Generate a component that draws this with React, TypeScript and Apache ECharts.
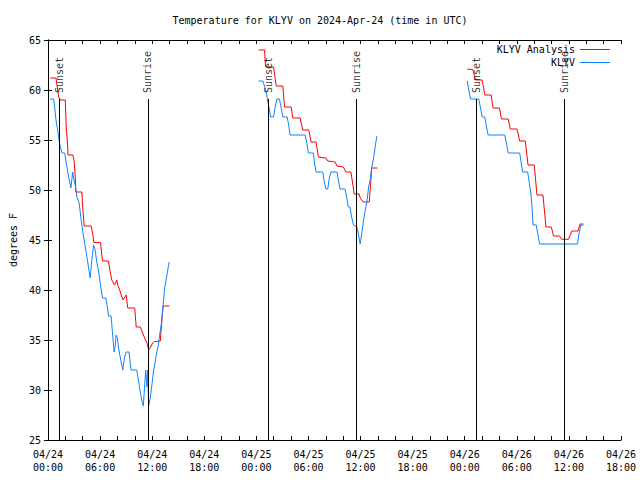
import React, { useEffect, useRef } from "react";
import * as echarts from "echarts";

const TITLE = "Temperature for KLYV on 2024-Apr-24 (time in UTC)";
const ANALYSIS = "KLYV Analysis";
const OBS = "KLYV";
const Y_NAME = "degrees F";

// hours since 04/24 00:00 UTC
const sunsetHours = [1.35, 25.37, 49.38];
const sunriseHours = [11.5, 35.54, 59.51];
const eventTop = 59.1;

// [hour since 04/24 00:00 UTC, degrees F]
const analysisDay1: [number, number][] = [
  [0.26, 61.2], [0.92, 61.2], [1.23, 59.3], [1.41, 59.0], [1.99, 59.0], [2.1, 56.3],
  [2.26, 54.5], [2.3, 53.5], [2.87, 53.5], [3.02, 52.8], [3.16, 51.0], [3.21, 49.8],
  [3.9, 49.8], [4.02, 48.0], [4.17, 46.4], [4.97, 46.4], [5.17, 45.5], [5.28, 44.75],
  [6.05, 44.75], [6.2, 43.5], [6.28, 42.9], [6.97, 42.9], [7.12, 42.0], [7.35, 41.0],
  [7.66, 40.5], [7.92, 41.0], [8.03, 40.5], [8.26, 40.0], [8.61, 39.0], [9.01, 39.5],
  [9.18, 38.2], [9.99, 38.2], [10.16, 36.3], [10.64, 36.3], [10.85, 35.8], [11.13, 35.2],
  [11.44, 34.6], [11.59, 34.0], [11.82, 34.3], [12.05, 34.7], [12.28, 34.85], [12.94, 34.9],
  [13.0, 35.7], [13.14, 37.3], [13.26, 38.4], [13.97, 38.4],
];
const observedDay1: [number, number][] = [
  [0.26, 59.1], [0.65, 59.1], [0.77, 58.3], [0.92, 57.0], [1.11, 56.0], [1.3, 54.8],
  [1.46, 54.2], [1.61, 53.7], [1.92, 53.7], [2.18, 52.3], [2.38, 51.3], [2.64, 50.2],
  [2.84, 51.8], [2.95, 51.2], [3.13, 50.5], [3.33, 49.3], [3.59, 48.7], [3.82, 47.0],
  [4.1, 45.3], [4.36, 44.0], [4.59, 42.7], [4.86, 41.2], [5.05, 43.0], [5.25, 44.5],
  [5.43, 44.0], [5.62, 42.8], [5.89, 41.5], [6.08, 40.3], [6.28, 39.2], [6.66, 39.2],
  [6.85, 38.2], [6.97, 37.4], [7.27, 37.4], [7.43, 35.7], [7.61, 33.8], [7.73, 34.3],
  [7.84, 35.5], [8.0, 35.2], [8.12, 34.2], [8.38, 33.0], [8.61, 32.0], [8.8, 33.2],
  [8.99, 33.8], [9.33, 33.8], [9.56, 32.0], [10.22, 32.0], [10.41, 31.0], [10.59, 30.0],
  [10.79, 29.0], [10.98, 28.4], [11.1, 30.0], [11.25, 32.0], [11.4, 30.3], [11.48, 32.0],
  [11.59, 28.4], [11.74, 29.0], [11.94, 30.3], [12.13, 31.7], [12.32, 32.7], [12.51, 33.7],
  [12.71, 34.5], [12.89, 35.7], [13.09, 36.8], [13.28, 38.7], [13.46, 40.3], [13.66, 41.3],
  [13.85, 42.3], [13.97, 42.8],
];
const analysisDay2: [number, number][] = [
  [24.25, 64.0], [24.94, 64.0], [25.06, 62.3], [25.98, 62.3], [26.29, 60.4], [27.05, 60.4],
  [27.24, 58.3], [28.01, 58.3], [28.2, 57.2], [29.04, 57.2], [29.35, 56.0], [30.04, 56.0],
  [30.3, 54.8], [30.88, 54.8], [31.14, 53.3], [32.02, 53.2], [32.22, 52.9], [33.06, 52.8],
  [33.29, 52.4], [34.01, 52.3], [34.32, 51.8], [34.89, 51.8], [35.12, 50.5], [35.27, 49.6],
  [35.85, 49.6], [35.96, 49.2], [36.31, 48.8], [37.0, 48.8], [37.19, 51.0], [37.27, 52.2],
  [37.96, 52.2],
];
const observedDay2: [number, number][] = [
  [24.25, 60.9], [24.76, 60.9], [25.14, 59.8], [25.33, 58.8], [25.52, 58.0], [25.63, 57.3],
  [25.98, 57.3], [26.17, 58.3], [26.37, 59.1], [26.66, 59.1], [26.86, 58.2], [27.05, 57.3],
  [27.55, 57.3], [27.7, 56.6], [27.89, 55.5], [29.61, 55.5], [29.81, 54.7], [29.99, 53.7],
  [30.57, 53.7], [30.68, 52.8], [30.88, 51.8], [31.65, 51.8], [31.83, 50.8], [32.02, 50.1],
  [32.22, 50.1], [32.4, 51.2], [32.6, 51.8], [33.29, 51.8], [33.44, 51.0], [33.63, 50.1],
  [34.21, 50.1], [34.4, 49.3], [34.58, 48.3], [34.78, 48.3], [34.97, 47.3], [35.2, 46.5],
  [35.58, 46.3], [35.78, 45.5], [35.96, 44.6], [36.16, 45.8], [36.35, 47.0], [36.54, 48.0],
  [36.73, 48.8], [36.93, 50.3], [37.11, 51.0], [37.3, 52.3], [37.5, 53.2], [37.68, 54.3],
  [37.88, 55.4],
];
const analysisDay3: [number, number][] = [
  [48.29, 62.07], [48.93, 62.07], [49.24, 61.0], [50.01, 61.0], [50.31, 59.5], [51.04, 59.5],
  [51.27, 58.2], [52.0, 58.2], [52.23, 57.1], [53.0, 57.1], [53.26, 56.1], [54.03, 56.1],
  [54.33, 54.9], [54.98, 54.9], [55.29, 52.5], [56.01, 52.5], [56.32, 49.5], [57.01, 49.5],
  [57.36, 46.3], [57.97, 46.3], [58.23, 45.4], [58.92, 45.4], [59.19, 45.07], [59.95, 45.07],
  [60.34, 45.9], [61.03, 45.9], [61.29, 46.6], [61.67, 46.6],
];
const observedDay3: [number, number][] = [
  [48.29, 60.9], [48.47, 60.0], [48.67, 59.1], [49.62, 59.1], [49.82, 58.2], [50.01, 57.3],
  [50.31, 57.3], [50.51, 56.3], [50.7, 55.5], [52.61, 55.5], [52.8, 54.7], [53.0, 53.7],
  [54.33, 53.7], [54.49, 52.8], [54.67, 51.8], [55.25, 51.8], [55.44, 50.7], [55.64, 49.5],
  [55.75, 48.3], [55.87, 46.5], [56.24, 46.5], [56.44, 45.5], [56.62, 44.6], [60.99, 44.6],
  [61.18, 45.7], [61.37, 46.5], [61.67, 46.5],
];

const FONT = "DejaVu Sans Mono";
const RED = "#ff0000";
const BLUE = "#0f84ff";

function tickLabel(v: number): string {
  const day = 24 + Math.floor(v / 24);
  const hr = Math.round(v % 24);
  return `04/${day}\n${String(hr).padStart(2, "0")}:00`;
}

export default function App() {
  const ref = useRef<HTMLDivElement>(null);
  useEffect(() => {
    if (!ref.current) return;
    const chart = echarts.init(ref.current, undefined, { renderer: "svg" });
    const lineSeries = (name: string, color: string, data: [number, number][]) => ({
      type: "line",
      name,
      data,
      symbol: "none",
      showSymbol: false,
      lineStyle: { color, width: 1 },
      itemStyle: { color },
      z: 3,
    });
    const eventLines = [...sunsetHours, ...sunriseHours].map((t) => [
      { coord: [t, eventTop] },
      { coord: [t, 25] },
    ]);
    const eventLabels = [
      ...sunsetHours.map((t) => [t, eventTop + 0.6, "Sunset"]),
      ...sunriseHours.map((t) => [t, eventTop + 0.6, "Sunrise"]),
    ];
    const axisCommon = {
      type: "value",
      min: 0,
      max: 66,
      interval: 6,
      axisLine: { show: true, lineStyle: { color: "#000", width: 1 } },
      axisTick: { show: true, inside: true, length: 4, lineStyle: { color: "#000" } },
      minorTick: { show: true, splitNumber: 3, length: 4, lineStyle: { color: "#000" } },
      splitLine: { show: false },
      minorSplitLine: { show: false },
    };
    const yCommon = {
      type: "value",
      min: 25,
      max: 65,
      interval: 5,
      axisLine: { show: true, lineStyle: { color: "#000", width: 1 } },
      axisTick: { show: true, inside: true, length: 4, lineStyle: { color: "#000" } },
      splitLine: { show: false },
    };
    chart.setOption({
      animation: false,
      backgroundColor: "#fff",
      title: {
        text: TITLE,
        left: "center",
        top: 10,
        textStyle: { fontFamily: FONT, fontSize: 10, fontWeight: "normal", color: "#000" },
      },
      legend: {
        data: [ANALYSIS, OBS],
        orient: "vertical",
        right: 30,
        top: 43,
        padding: 0,
        align: "right",
        icon: "rect",
        itemWidth: 30,
        itemHeight: 1,
        itemGap: 0,
        textStyle: { fontFamily: FONT, fontSize: 10, color: "#000", lineHeight: 13 },
      },
      grid: { left: 46, right: 19, top: 40, bottom: 40 },
      xAxis: [
        {
          ...axisCommon,
          position: "bottom",
          axisLabel: {
            formatter: tickLabel,
            fontFamily: FONT,
            fontSize: 10,
            color: "#000",
            lineHeight: 13,
            margin: 8,
          },
        },
        {
          ...axisCommon,
          position: "top",
          axisLabel: { show: false },
        },
      ],
      yAxis: [
        {
          ...yCommon,
          position: "left",
          name: Y_NAME,
          nameLocation: "middle",
          nameRotate: 90,
          nameGap: 30,
          nameTextStyle: { fontFamily: FONT, fontSize: 10, color: "#000" },
          axisLabel: { fontFamily: FONT, fontSize: 10, color: "#000", margin: 7 },
        },
        {
          ...yCommon,
          position: "right",
          axisLabel: { show: false },
        },
      ],
      series: [
        lineSeries(ANALYSIS, RED, analysisDay1),
        lineSeries(ANALYSIS, RED, analysisDay2),
        lineSeries(ANALYSIS, RED, analysisDay3),
        lineSeries(OBS, BLUE, observedDay1),
        lineSeries(OBS, BLUE, observedDay2),
        lineSeries(OBS, BLUE, observedDay3),
        {
          type: "scatter",
          name: "events",
          data: eventLabels,
          symbolSize: 1,
          itemStyle: { color: "rgba(0,0,0,0)" },
          z: 4,
          label: {
            show: true,
            position: "inside",
            rotate: 90,
            align: "left",
            verticalAlign: "middle",
            formatter: (p: any) => p.value[2],
            fontFamily: FONT,
            fontSize: 10,
            color: "#000",
          },
          markLine: {
            silent: true,
            symbol: "none",
            label: { show: false },
            lineStyle: { color: "#000", width: 1, type: "solid" },
            data: eventLines,
          },
        },
      ],
    });
    return () => chart.dispose();
  }, []);
  return (
    <div
      ref={ref}
      style={{ position: "fixed", left: 0, top: 0, width: 640, height: 480, background: "#fff" }}
    />
  );
}
